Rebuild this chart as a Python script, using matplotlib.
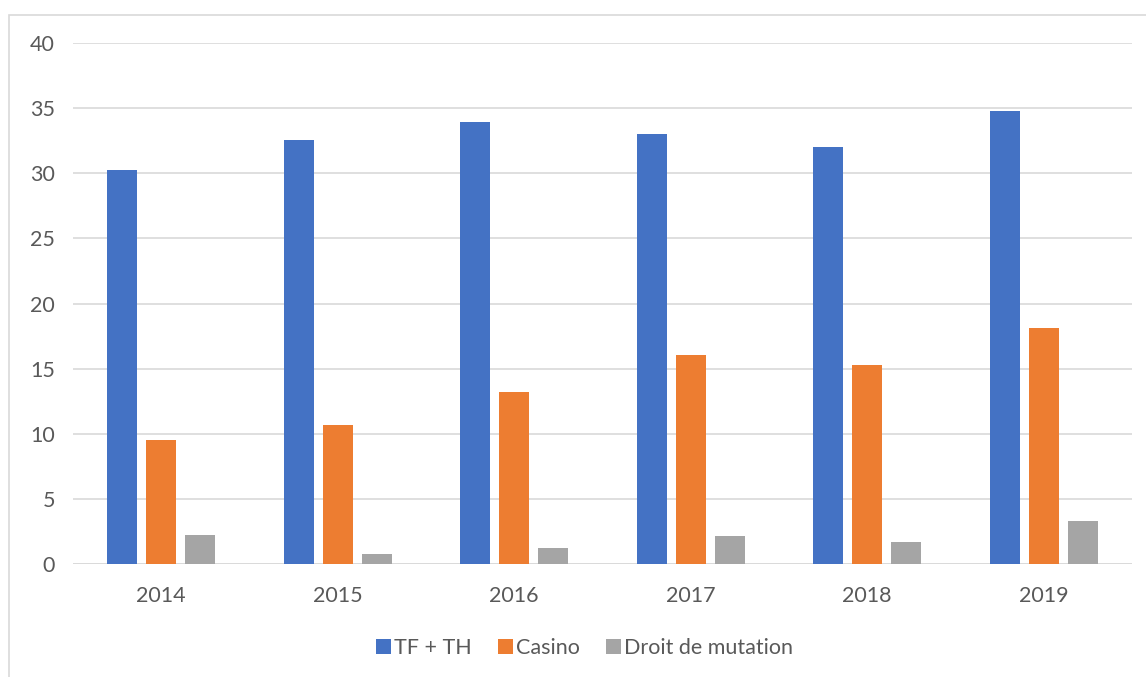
import numpy as np
from matplotlib import pyplot as plt
from matplotlib.patches import Rectangle

years = ['2014', '2015', '2016', '2017', '2018', '2019']
tf_th = [30.25, 32.55, 33.9, 33.0, 32.0, 34.75]
casino = [9.5, 10.7, 13.2, 16.05, 15.3, 18.12]
droit_mutation = [2.2, 0.75, 1.2, 2.15, 1.7, 3.3]

labels = ['TF + TH', 'Casino', 'Droit de mutation']
colors = ['#4472C4', '#ED7D31', '#A5A5A5']
txt = '#595959'

plt.rcParams['font.family'] = ['Lato', 'DejaVu Sans']

fig = plt.figure(figsize=(11.46, 6.77), dpi=100)
ax = fig.add_axes([73/1146, 1-564/677, (1132-73)/1146, (564-43)/677])

# chart frame (cropped on right/bottom like the source)
fig.patches.append(Rectangle((8.5/1146, -0.1), 1.2, 1-14.5/677+0.1,
                             transform=fig.transFigure, fill=False,
                             edgecolor='#D9D9D9', linewidth=1.2))

x = np.arange(len(years))
w = 0.17
step = 0.221
for i, (vals, lab, c) in enumerate(zip([tf_th, casino, droit_mutation], labels, colors)):
    ax.bar(x + (i-1)*step, vals, w, color=c, label=lab, zorder=3)

ax.set_xlim(-0.5, len(years)-0.5)
ax.set_ylim(0, 40)
ax.set_yticks(range(0, 41, 5))
ax.set_xticks(x)
ax.set_xticklabels(years)
ax.yaxis.grid(True, color='#D9D9D9', linewidth=1.2, zorder=0)
for s in ax.spines.values():
    s.set_visible(False)
ax.axhline(0, color='#D9D9D9', linewidth=1.2, zorder=2)
ax.tick_params(length=0, labelsize=15.5, colors=txt)
ax.tick_params(axis='y', pad=13)
ax.tick_params(axis='x', pad=16)

leg = fig.legend(loc='center', bbox_to_anchor=(0.51, 1-648/677), ncol=3,
                 frameon=False, fontsize=15.5, handlelength=0.7, handleheight=0.7,
                 handletextpad=0.15, columnspacing=1.2)
for t in leg.get_texts():
    t.set_color(txt)

plt.savefig('out.png', dpi=100)
